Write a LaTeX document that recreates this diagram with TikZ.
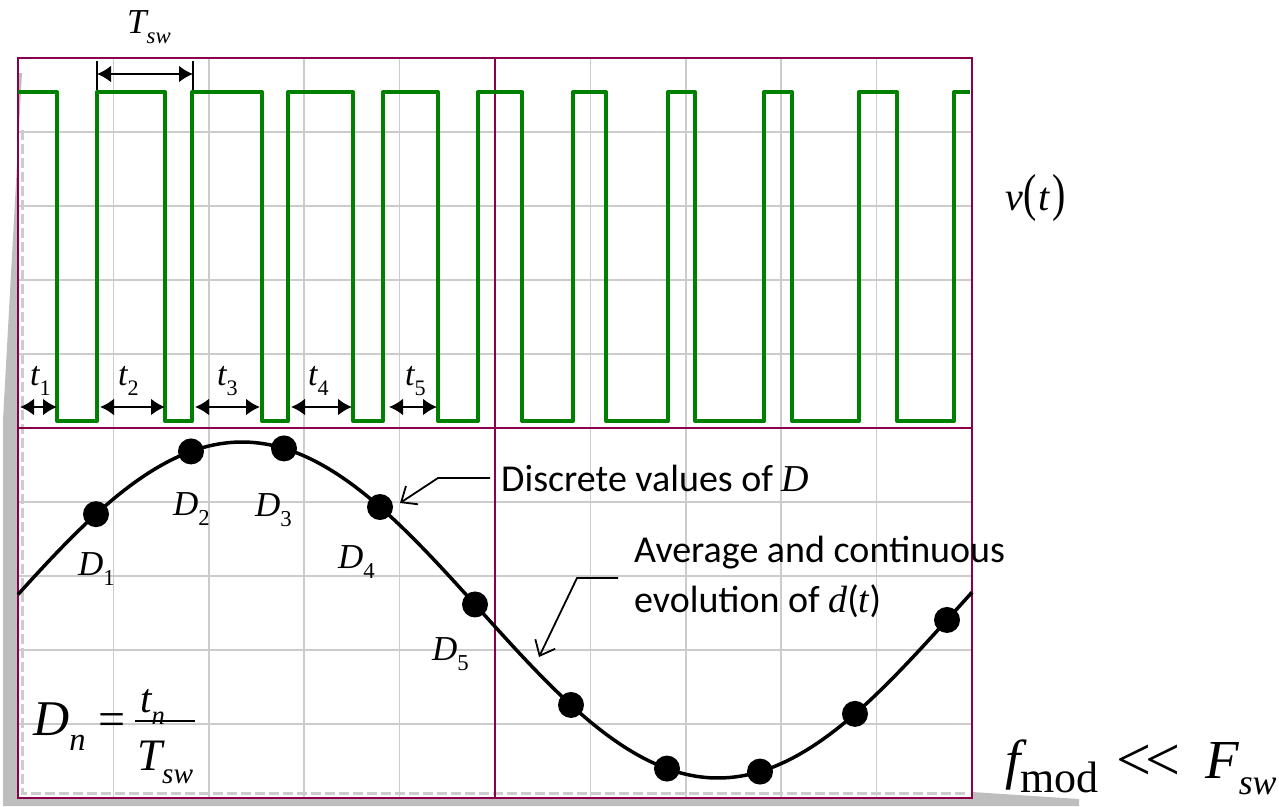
\documentclass[tikz,border=0pt]{standalone}
\usepackage{fontspec}
\setmainfont{Liberation Serif}
\newfontfamily\calibfont{Carlito}
\usetikzlibrary{arrows.meta,positioning,calc}
\definecolor{framered}{RGB}{139,0,74}
\definecolor{wavegreen}{RGB}{0,128,0}
\definecolor{gridgray}{RGB}{204,204,204}
\definecolor{shadowgray}{RGB}{190,190,190}
\newcommand\sbs[2]{#1\raisebox{-0.3em}{\scalebox{0.65}{#2}}}
\tikzset{
  gridline/.style={draw=gridgray, line width=1.5pt},
  frameline/.style={draw=framered, line width=2.5pt},
  wave/.style={draw=wavegreen, line width=4pt, line join=round},
  curve/.style={draw=black, line width=3.5pt},
  dot/.style={circle, fill=black, minimum size=26pt, inner sep=0pt},
  dimarr/.style={{Latex[length=14pt,width=17pt]}-{Latex[length=14pt,width=17pt]}, line width=2.5pt},
  callout/.style={-{Straight Barb[length=13pt,width=22pt]}, line width=1.8pt},
  lab/.style={font=\fontsize{35}{42}\selectfont\itshape, inner sep=0pt},
  note/.style={font=\calibfont\fontsize{38}{50}\selectfont, inner sep=0pt},
  big/.style={font=\fontsize{55}{60}\selectfont\itshape, inner sep=0pt}
}
\begin{document}
\begin{tikzpicture}[x=1pt, y=-1pt,
  declare function={fy(\x)=610-168*sin((\x-4)*0.378151);}]
\useasboundingbox (0,0) rectangle (1279,806);
% ---- shadow ----
\fill[shadowgray] (22,73) -- (3,420) -- (3,806) -- (1079,806) -- (1079,799)
  -- (972,792) -- (972,798) -- (18,798) -- (18,73) -- cycle;
\draw[gridgray, line width=3pt, dash pattern=on 10pt off 4pt] (22,130) -- (22,793) -- (965,793);
% ---- grid ----
\foreach \k in {1,...,9}
  \draw[gridline] ({18+95.4*\k},58) -- ({18+95.4*\k},798);
\foreach \k in {1,...,9}
  \draw[gridline] (18,{58+74*\k}) -- (972,{58+74*\k});
\draw[frameline] (18,58) rectangle (972,798);
\draw[frameline] (495,58) -- (495,798);
\draw[frameline] (18,428) -- (972,428);
% ---- switching signal v(t) ----
\draw[wave] (18,92) -- (57,92) -- (57,421)
  \foreach \r/\f in {97/165, 192/262, 288/353, 383/438, 478/522,
                     573/606, 668/695, 764/792, 859/897}
  { -- (\r,421) -- (\r,92) -- (\f,92) -- (\f,421) }
  -- (954,421) -- (954,92) -- (970,92);
\node[font=\fontsize{40}{44}\selectfont, inner sep=0pt, anchor=base west] (vt) at (1005,210)
  {\textit{v}\kern1pt\scalebox{1}[1.3]{(}\kern1pt\textit{t}\kern2pt\scalebox{1}[1.3]{)}};
% ---- T_sw ----
\node[lab, anchor=base west] (tsw) at (127,33) {\sbs{T}{sw}};
\coordinate (tswl) at (97,74);
\coordinate (tswr) at (193,74);
\draw[line width=2.5pt] (97,61) -- (97,90) (193,61) -- (193,90);
\draw[dimarr] (tswl) -- (tswr);
% ---- on-times t_n ----
\foreach \i/\a/\b/\lx in {1/20/57/30, 2/100/165/118, 3/195/260/217, 4/291/352/308, 5/389/437/405}
{
  \coordinate (ta\i) at (\a,407);
  \coordinate (tb\i) at (\b,407);
  \draw[dimarr] (ta\i) -- (tb\i);
  \node[lab, font=\fontsize{34}{40}\selectfont\itshape, anchor=base west] (t\i) at (\lx,385) {\sbs{t}{\upshape\i}};
}
% ---- duty cycle d(t) ----
\draw[curve] plot[domain=18:972, samples=150, smooth] (\x,{fy(\x)});
\foreach \x [count=\i] in {96,191,284,380,475,571,667,760,855,947}
  \node[dot] (d\i) at (\x,{fy(\x)}) {};
\foreach \i/\lx/\ly in {1/78/575, 2/173/515, 3/255/516, 4/338/568, 5/432/660}
  \node[lab, anchor=base west] (D\i) at (\lx,\ly) {\sbs{D}{\upshape\i}};
% ---- callouts ----
\node[note, anchor=base west] (n1) at (501,491) {Discrete values of {\rmfamily\itshape D}};
\coordinate (c1k) at (438,478);
\coordinate (c1t) at (400,503);
\draw[callout] ([xshift=-11pt]n1.west) -- (c1k) -- (c1t);
\node[note, anchor=base west] (n2) at (634,562) {Average and continuous};
\node[note, anchor=base west] (n2b) at (634,612) {evolution of {\rmfamily\itshape d}({\rmfamily\itshape t})};
\coordinate (c2s) at ($(n2.base west)+(-16,16)$);
\coordinate (c2k) at (577,578);
\coordinate (c2t) at (539,657);
\draw[callout] (c2s) -- (c2k) -- (c2t);
% ---- D_n = t_n / T_sw ----
\node[big, font=\fontsize{50}{55}\selectfont\itshape, anchor=base west] (Dn) at (33,735) {\sbs{D}{n}};
\node[big, font=\fontsize{48}{50}\selectfont, anchor=base west] (eq) at (98,735) {=};
\node[lab, font=\fontsize{41}{45}\selectfont\itshape, anchor=base west] (num) at (140,712) {\sbs{t}{n}};
\node[lab, font=\fontsize{45}{50}\selectfont\itshape, anchor=base west] (den) at (137,770) {\sbs{T}{sw}};
\draw[line width=2.5pt] (135,721) -- (195,721);
% ---- f_mod << F_sw ----
\node[big, anchor=base west] (fm) at (1005,778) {\textit{f}\raisebox{-14pt}{\fontsize{44}{44}\selectfont\upshape mod}};
\node[big, font=\fontsize{62}{66}\selectfont, anchor=base west] (ll) at (1116,780) {<\kern-6pt<};
\node[big, anchor=base west] (Fs) at (1205,778) {\sbs{F}{sw}};
\end{tikzpicture}
\end{document}
